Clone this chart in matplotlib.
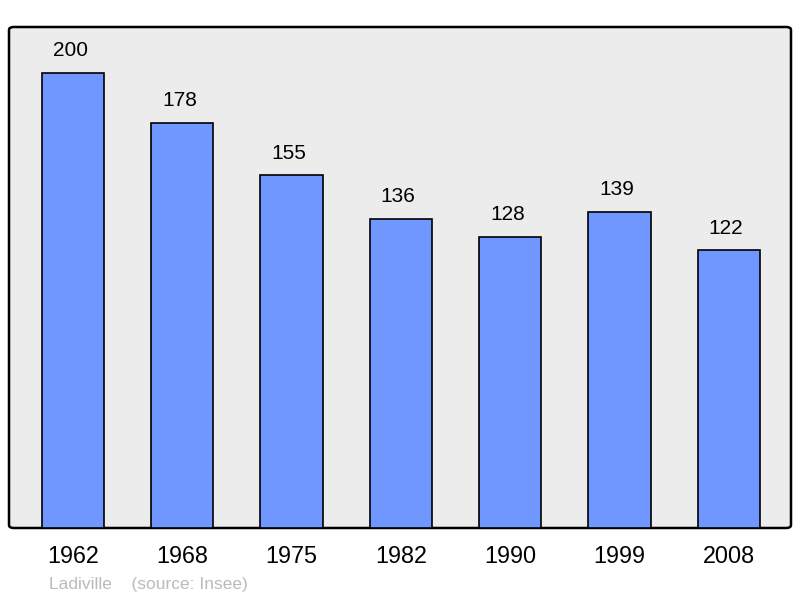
import matplotlib.pyplot as plt
from matplotlib.patches import FancyBboxPatch

years = ['1962', '1968', '1975', '1982', '1990', '1999', '2008']
population = [200, 178, 155, 136, 128, 139, 122]

plt.rcParams['font.family'] = ['Liberation Sans', 'DejaVu Sans']

fig = plt.figure(figsize=(8, 5.98), dpi=100)
ax = fig.add_axes([9 / 800, 70 / 598, 782 / 800, 501 / 598])
ax.set_xlim(-0.5855, 6.569)
ax.set_ylim(0, 220.2)
ax.axis('off')

panel = FancyBboxPatch((0, 0), 1, 1, boxstyle='round,pad=0,rounding_size=0.006',
                       transform=ax.transAxes, facecolor='#ececec',
                       edgecolor='black', linewidth=1.8, clip_on=False, zorder=0)
ax.add_patch(panel)

x = range(len(years))
ax.bar(x, population, width=0.57, color='#7096ff', edgecolor='black',
       linewidth=1.2, zorder=2)

for i, v in enumerate(population):
    ax.annotate(str(v), (i, v), xytext=(-2, 16), textcoords='offset points',
                ha='center', va='center', fontsize=15)
    ax.annotate(years[i], (i, 0), xytext=(0, -20.5), textcoords='offset points',
                ha='center', va='center', fontsize=16.8)

fig.text(49 / 800, 1 - 584 / 598, 'Ladiville    (source: Insee)', color='#bbbbbb',
         fontsize=12.5, ha='left', va='center')

fig.savefig('out.png', dpi=100)
